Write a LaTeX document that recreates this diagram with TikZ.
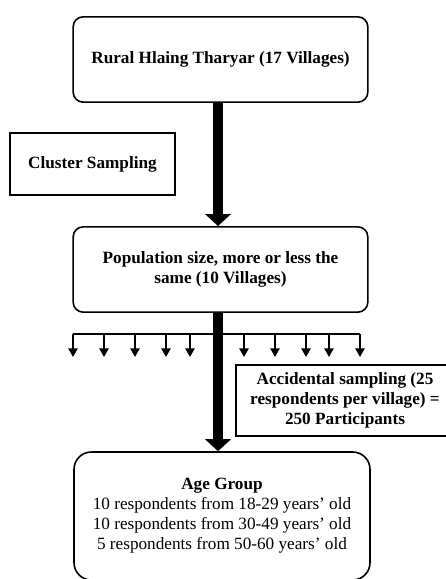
\documentclass[tikz,border=0pt]{standalone}
\usepackage{fontspec}
\setmainfont{Liberation Serif}
\usetikzlibrary{arrows.meta,positioning}

\begin{document}
\begin{tikzpicture}[%
    x=0.75pt, y=-0.75pt,                 % work in pixels of the sketch
    font=\fontsize{12.9}{15}\selectfont, % Times-like text
    ]
% -------------------------------------------------
% Box and arrow styles
\tikzset{
  base/.style={draw, line width=1.2pt, align=center, inner sep=0pt},
  rbox/.style={base, rounded corners=7.5pt, minimum width=221pt, minimum height=64pt, font=\fontsize{12.9}{15}\selectfont\bfseries},
  sbox/.style={base, rectangle, font=\fontsize{12.9}{15}\selectfont\bfseries},
  abox/.style={base, rounded corners=13pt, minimum width=222pt, minimum height=96pt},
  % thick main flow and thin branch arrows
  big/.style={line width=8pt, -{Triangle[length=9pt,width=19pt]}},
  small/.style={line width=1.2pt, -{Triangle[length=6.5pt,width=7pt]}}
}
\useasboundingbox (0,0) rectangle (446,579);
\clip (0,0) rectangle (446,579);
% -------------------------------------------------
% Place the nodes
\node [rbox] (rural) at (220.5,59.5) {Rural Hlaing Tharyar (17 Villages)};
\node [sbox, minimum width=124pt, minimum height=46.5pt] (cluster) at (92.5,164) {Cluster Sampling};
\node [rbox] (pop) at (220.5,269.5) {Population size, more or less the\\same (10 Villages)};
\node [sbox, minimum width=163.5pt, minimum height=53.25pt] (accid) at (345,400.5)
  {Accidental sampling (25\\respondents per village) =\\250 Participants};
\node [abox] (age) at (222,516)
  {\textbf{Age Group}\\10 respondents from 18-29 years’ old\\10 respondents from 30-49 years’ old\\5 respondents from 50-60 years’ old};

% Corner / branch points
\coordinate (mid) at (218,0);
\coordinate (bl) at (73,334);
\coordinate (br) at (360,334);

% Branch to the villages
\draw [line width=1.2pt] (bl) -- (br);
\foreach \x [count=\i] in {73,104,135,166,190,244,275,306,329,360} {
  \coordinate (b\i) at (\x,334);
  \coordinate (e\i) at (\x,357);
  \draw [small] (b\i) -- (e\i);
}

% Main flow
\draw [big] (rural.south -| mid) -- (pop.north -| mid);
\draw [big] (pop.south -| mid) -- (age.north -| mid);

\end{tikzpicture}
\end{document}
